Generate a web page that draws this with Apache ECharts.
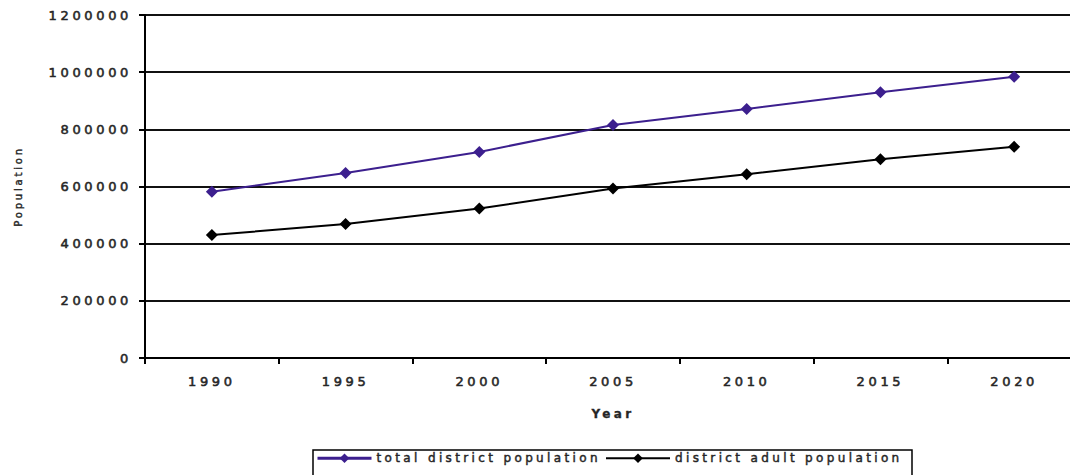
<!DOCTYPE html>
<html>
<head>
<meta charset="utf-8">
<script src="https://cdn.jsdelivr.net/npm/echarts@6/dist/echarts.min.js"></script>
<style>
  html, body { margin: 0; padding: 0; background: #fff; }
  #chart { width: 1070px; height: 475px; }
  /* widely tracked lettering throughout the chart */
  #chart text { letter-spacing: 0.28em; }
</style>
</head>
<body>
<div id="chart"></div>
<script>
// Projected district population by year
const years = ['1990', '1995', '2000', '2005', '2010', '2015', '2020'];
const totalPopulation = [582000, 647000, 721000, 815000, 871000, 930000, 984000];
const adultPopulation = [430000, 469000, 523000, 593000, 643000, 695000, 739000];
const seriesNames = ['total district population', 'district adult population'];
const yTicks = { min: 0, max: 1200000, step: 200000 };

const FONT = 'DejaVu Sans, Liberation Sans, Arial, sans-serif';
const TEXT_COLOR = '#262626';
const PURPLE = '#3c1f8e';

// slightly heavier lettering: fill plus a thin stroke of the same colour
const heavy = (size, extra) => Object.assign({
  fontFamily: FONT, fontSize: size, color: TEXT_COLOR,
  textBorderColor: TEXT_COLOR, textBorderWidth: 0.55
}, extra || {});

const chart = echarts.init(document.getElementById('chart'), null, { renderer: 'svg' });

chart.setOption({
  animation: false,
  backgroundColor: '#fff',
  grid: {
    left: 145, top: 15, width: 936, height: 343,
    containLabel: false, outerBoundsMode: 'none'
  },
  xAxis: {
    type: 'category',
    data: years,
    boundaryGap: true,
    name: 'Year',
    nameLocation: 'middle',
    nameGap: 50,
    nameTextStyle: heavy(12, { fontWeight: 'bold', textBorderWidth: 0.3 }),
    axisLine: { lineStyle: { color: '#000', width: 2 } },
    axisTick: { show: true, inside: false, length: 6, alignWithLabel: false, lineStyle: { color: '#000', width: 2 } },
    axisLabel: heavy(13, { margin: 17 }),
    splitLine: { show: false }
  },
  yAxis: {
    type: 'value',
    min: yTicks.min,
    max: yTicks.max,
    interval: yTicks.step,
    name: 'Population',
    nameLocation: 'middle',
    nameGap: 122,
    nameRotate: 90,
    nameTextStyle: heavy(10, { textBorderWidth: 0.4 }),
    axisLine: { show: true, lineStyle: { color: '#000', width: 2 } },
    axisTick: { show: true, inside: false, length: 6, lineStyle: { color: '#000', width: 2 } },
    axisLabel: heavy(13, { margin: 13, formatter: (v) => String(v) }),
    splitLine: { show: true, lineStyle: { color: '#111', width: 2 } }
  },
  legend: [
    {
      data: [seriesNames[0]],
      left: 316, top: 452,
      itemWidth: 54, itemHeight: 12, itemGap: 0,
      padding: 0,
      lineStyle: { width: 3 },
      textStyle: heavy(12, { textBorderWidth: 0.45 })
    },
    {
      data: [seriesNames[1]],
      left: 605, top: 452,
      itemWidth: 64, itemHeight: 12, itemGap: 0,
      padding: 0,
      lineStyle: { width: 2 },
      textStyle: heavy(12, { textBorderWidth: 0.45 })
    }
  ],
  graphic: [
    {
      type: 'rect',
      shape: { x: 313, y: 450, width: 599, height: 32 },
      style: { fill: 'none', stroke: '#000', lineWidth: 1.5 },
      silent: true,
      z: 0
    }
  ],
  series: [
    {
      name: seriesNames[0],
      type: 'line',
      data: totalPopulation,
      symbol: 'diamond',
      symbolSize: 12,
      color: PURPLE,
      lineStyle: { color: PURPLE, width: 2 },
      itemStyle: { color: PURPLE }
    },
    {
      name: seriesNames[1],
      type: 'line',
      data: adultPopulation,
      symbol: 'diamond',
      symbolSize: 12,
      color: '#000',
      lineStyle: { color: '#000', width: 2 },
      itemStyle: { color: '#000' }
    }
  ]
});
</script>
</body>
</html>
